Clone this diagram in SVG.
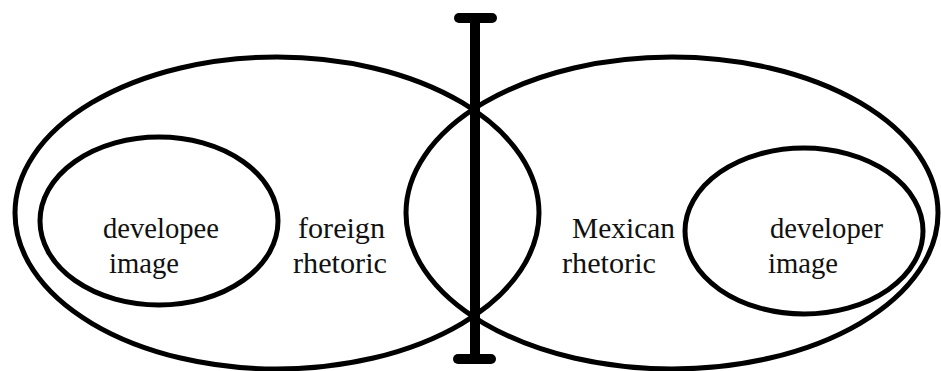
<svg xmlns="http://www.w3.org/2000/svg" width="941" height="371" viewBox="0 0 941 371">
<style>
.e{fill:none;stroke:#000;stroke-width:5}
.t{font-family:"Liberation Serif","Times New Roman",serif;font-size:29px;fill:#111}
</style>
<rect width="941" height="371" fill="#fff"/>
<g id="foreign-rhetoric">
<ellipse class="e" cx="277" cy="213" rx="262" ry="156"/>
<text class="t" x="298" y="238" textLength="87" lengthAdjust="spacingAndGlyphs">foreign</text>
<text class="t" x="293" y="273" textLength="94" lengthAdjust="spacingAndGlyphs">rhetoric</text>
</g>
<g id="mexican-rhetoric">
<ellipse class="e" cx="672" cy="213" rx="266" ry="156"/>
<text class="t" x="572" y="238" textLength="103" lengthAdjust="spacingAndGlyphs">Mexican</text>
<text class="t" x="562" y="273" textLength="94" lengthAdjust="spacingAndGlyphs">rhetoric</text>
</g>
<g id="developee-image">
<ellipse class="e" cx="159" cy="221" rx="119" ry="84"/>
<text class="t" x="103" y="238" textLength="116" lengthAdjust="spacingAndGlyphs">developee</text>
<text class="t" x="109" y="273" textLength="70" lengthAdjust="spacingAndGlyphs">image</text>
</g>
<g id="developer-image">
<ellipse class="e" cx="804" cy="231" rx="119" ry="83"/>
<text class="t" x="770" y="238" textLength="113" lengthAdjust="spacingAndGlyphs">developer</text>
<text class="t" x="768" y="273" textLength="70" lengthAdjust="spacingAndGlyphs">image</text>
</g>
<g id="connectors">
<line x1="475" y1="18" x2="475" y2="359" stroke="#000" stroke-width="10"/>
<rect x="454" y="13" width="43" height="10" rx="5" fill="#000"/>
<rect x="453" y="354" width="43" height="10" rx="5" fill="#000"/>
</g>
</svg>
